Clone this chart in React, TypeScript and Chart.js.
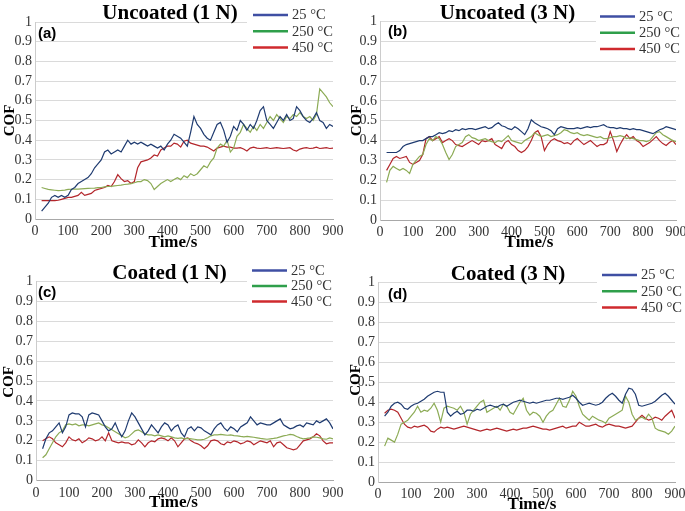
import React, { useEffect, useRef } from "react";
import { Chart, registerables } from "chart.js";

Chart.register(...registerables);

// ---------- data ----------
const TIME = [
  20, 30, 40, 50, 60, 70, 80, 90, 100, 110,
  120, 130, 140, 150, 160, 170, 180, 190, 200, 210,
  220, 230, 240, 250, 260, 270, 280, 290, 300, 310,
  320, 330, 340, 350, 360, 370, 380, 390, 400, 410,
  420, 430, 440, 450, 460, 470, 480, 490, 500, 510,
  520, 530, 540, 550, 560, 570, 580, 590, 600, 610,
  620, 630, 640, 650, 660, 670, 680, 690, 700, 710,
  720, 730, 740, 750, 760, 770, 780, 790, 800, 810,
  820, 830, 840, 850, 860, 870, 880, 890, 900,
];

const X_TICKS = [0, 100, 200, 300, 400, 500, 600, 700, 800, 900];
const Y_TICKS = [0, 0.1, 0.2, 0.3, 0.4, 0.5, 0.6, 0.7, 0.8, 0.9, 1];

const SERIES_LABELS = ["25 °C", "250 °C", "450 °C"];
const PANEL_TITLES = ["Uncoated (1 N)", "Uncoated (3 N)", "Coated (1 N)", "Coated (3 N)"];
const PANEL_TAGS = ["(a)", "(b)", "(c)", "(d)"];
const X_TITLE = "Time/s";
const Y_TITLE = "COF";

// (a) Uncoated 1 N
const A25 = [
  0.04, 0.06, 0.08, 0.11, 0.12, 0.11, 0.12, 0.11, 0.12, 0.15,
  0.16, 0.18, 0.19, 0.20, 0.21, 0.23, 0.26, 0.28, 0.30, 0.34,
  0.35, 0.33, 0.34, 0.35, 0.34, 0.37, 0.40, 0.38, 0.39, 0.38,
  0.39, 0.38, 0.37, 0.38, 0.37, 0.36, 0.37, 0.35, 0.38, 0.40,
  0.43, 0.42, 0.41, 0.39, 0.37, 0.44, 0.52, 0.48, 0.46, 0.43,
  0.41, 0.40, 0.44, 0.48, 0.49, 0.45, 0.39, 0.42, 0.47, 0.45,
  0.50, 0.48, 0.45, 0.48, 0.46, 0.50, 0.55, 0.57, 0.50, 0.48,
  0.46, 0.49, 0.52, 0.50, 0.53, 0.50, 0.51, 0.57, 0.55, 0.52,
  0.50, 0.49, 0.51, 0.54, 0.50, 0.49, 0.46, 0.48, 0.47,
];
const A250 = [
  0.16, 0.155, 0.15, 0.148, 0.146, 0.144, 0.145, 0.147, 0.15, 0.151,
  0.152, 0.152, 0.153, 0.154, 0.155, 0.156, 0.157, 0.159, 0.16, 0.163,
  0.165, 0.166, 0.168, 0.17, 0.172, 0.175, 0.177, 0.18, 0.184, 0.19,
  0.19, 0.2, 0.195, 0.18, 0.15, 0.165, 0.18, 0.19, 0.2, 0.19,
  0.2, 0.21, 0.2, 0.22, 0.21, 0.23, 0.22, 0.23, 0.25, 0.27,
  0.26, 0.29, 0.31, 0.36, 0.38, 0.37, 0.40, 0.34, 0.36, 0.42,
  0.44, 0.48, 0.46, 0.44, 0.47, 0.45, 0.48, 0.46, 0.49, 0.52,
  0.50, 0.53, 0.51, 0.49, 0.52, 0.51, 0.53, 0.52, 0.54, 0.52,
  0.51, 0.52, 0.50, 0.53, 0.66, 0.64, 0.62, 0.59, 0.57,
];
const A450 = [
  0.093, 0.093, 0.093, 0.093, 0.093, 0.095, 0.10, 0.105, 0.11, 0.11,
  0.115, 0.12, 0.135, 0.12, 0.125, 0.13, 0.145, 0.15, 0.155, 0.16,
  0.17, 0.165, 0.19, 0.225, 0.205, 0.19, 0.195, 0.18, 0.19, 0.26,
  0.29, 0.295, 0.30, 0.31, 0.325, 0.32, 0.35, 0.36, 0.37, 0.37,
  0.385, 0.38, 0.365, 0.395, 0.40, 0.385, 0.38, 0.375, 0.37, 0.37,
  0.365, 0.355, 0.345, 0.36, 0.365, 0.37, 0.365, 0.365, 0.36, 0.36,
  0.362, 0.355, 0.345, 0.36, 0.365, 0.36, 0.358, 0.36, 0.362, 0.358,
  0.36, 0.362, 0.36, 0.358, 0.36, 0.362, 0.35, 0.345, 0.355, 0.36,
  0.362, 0.358, 0.36, 0.365, 0.358, 0.36, 0.362, 0.358, 0.36,
];

// (b) Uncoated 3 N
const B25 = [
  0.34, 0.34, 0.34, 0.34, 0.35, 0.37, 0.38, 0.385, 0.39, 0.395,
  0.40, 0.40, 0.41, 0.42, 0.42, 0.43, 0.44, 0.435, 0.44, 0.45,
  0.445, 0.455, 0.45, 0.46, 0.455, 0.46, 0.46, 0.455, 0.46, 0.465,
  0.47, 0.46, 0.465, 0.48, 0.49, 0.475, 0.47, 0.46, 0.455, 0.47,
  0.46, 0.445, 0.43, 0.46, 0.505, 0.49, 0.48, 0.47, 0.465, 0.46,
  0.45, 0.43, 0.46, 0.47, 0.465, 0.46, 0.46, 0.46, 0.465, 0.46,
  0.465, 0.47, 0.465, 0.47, 0.47, 0.475, 0.48, 0.47, 0.465, 0.465,
  0.46, 0.465, 0.46, 0.46, 0.455, 0.46, 0.455, 0.455, 0.45, 0.445,
  0.44, 0.435, 0.445, 0.455, 0.46, 0.47, 0.465, 0.46, 0.455,
];
const B250 = [
  0.19, 0.25, 0.27, 0.26, 0.25, 0.26, 0.25, 0.235, 0.28, 0.30,
  0.32, 0.33, 0.38, 0.41, 0.40, 0.42, 0.41, 0.38, 0.34, 0.305,
  0.33, 0.37, 0.38, 0.39, 0.42, 0.43, 0.415, 0.41, 0.40, 0.405,
  0.41, 0.40, 0.395, 0.39, 0.40, 0.395, 0.41, 0.425, 0.40, 0.395,
  0.39, 0.385, 0.40, 0.41, 0.42, 0.44, 0.43, 0.42, 0.425, 0.43,
  0.42, 0.425, 0.43, 0.44, 0.455, 0.45, 0.44, 0.435, 0.44, 0.43,
  0.425, 0.43, 0.425, 0.42, 0.415, 0.42, 0.41, 0.41, 0.415, 0.42,
  0.42, 0.425, 0.42, 0.41, 0.415, 0.41, 0.405, 0.40, 0.40, 0.395,
  0.40, 0.42, 0.44, 0.445, 0.43, 0.42, 0.41, 0.40, 0.395,
];
const B450 = [
  0.25, 0.28, 0.31, 0.32, 0.31, 0.315, 0.32, 0.29, 0.28, 0.29,
  0.30, 0.33, 0.41, 0.42, 0.40, 0.41, 0.42, 0.39, 0.40, 0.41,
  0.40, 0.38, 0.375, 0.37, 0.38, 0.39, 0.40, 0.39, 0.38, 0.40,
  0.395, 0.40, 0.41, 0.38, 0.37, 0.36, 0.39, 0.40, 0.38, 0.37,
  0.35, 0.34, 0.35, 0.37, 0.40, 0.44, 0.45, 0.42, 0.35, 0.38,
  0.40, 0.41, 0.40, 0.395, 0.385, 0.39, 0.38, 0.40, 0.41, 0.395,
  0.38, 0.39, 0.40, 0.385, 0.37, 0.38, 0.38, 0.39, 0.445, 0.40,
  0.345, 0.38, 0.41, 0.43, 0.41, 0.42, 0.40, 0.39, 0.37, 0.38,
  0.39, 0.405, 0.42, 0.40, 0.385, 0.375, 0.39, 0.40, 0.38,
];

// (c) Coated 1 N
const C25 = [
  0.16, 0.21, 0.24, 0.25, 0.27, 0.29, 0.24, 0.27, 0.33, 0.34,
  0.335, 0.335, 0.32, 0.27, 0.33, 0.34, 0.335, 0.33, 0.30, 0.27,
  0.25, 0.26, 0.29, 0.25, 0.22, 0.25, 0.30, 0.34, 0.32, 0.29,
  0.26, 0.23, 0.25, 0.28, 0.26, 0.24, 0.27, 0.29, 0.28, 0.25,
  0.27, 0.28, 0.24, 0.22, 0.26, 0.27, 0.25, 0.27, 0.265, 0.25,
  0.24, 0.23, 0.26, 0.28, 0.29, 0.265, 0.25, 0.27, 0.26, 0.245,
  0.27, 0.28, 0.29, 0.32, 0.30, 0.28, 0.29, 0.285, 0.28, 0.28,
  0.29, 0.30, 0.31, 0.28, 0.27, 0.26, 0.265, 0.275, 0.28, 0.27,
  0.29, 0.285, 0.28, 0.30, 0.29, 0.30, 0.31, 0.29, 0.26,
];
const C250 = [
  0.115, 0.13, 0.16, 0.19, 0.22, 0.24, 0.25, 0.28, 0.285, 0.28,
  0.285, 0.275, 0.28, 0.28, 0.275, 0.28, 0.285, 0.29, 0.28, 0.275,
  0.265, 0.255, 0.245, 0.235, 0.225, 0.215, 0.22, 0.235, 0.25, 0.255,
  0.245, 0.235, 0.23, 0.23, 0.225, 0.23, 0.225, 0.22, 0.225, 0.22,
  0.215, 0.212, 0.215, 0.21, 0.212, 0.21, 0.208, 0.205, 0.205, 0.208,
  0.215, 0.225, 0.23, 0.23, 0.232, 0.23, 0.228, 0.23, 0.226, 0.225,
  0.222, 0.22, 0.222, 0.22, 0.218, 0.215, 0.212, 0.21, 0.208, 0.21,
  0.212, 0.215, 0.22, 0.225, 0.228, 0.232, 0.23, 0.222, 0.215, 0.21,
  0.212, 0.215, 0.22, 0.218, 0.215, 0.21, 0.208, 0.215, 0.21,
];
const C450 = [
  0.20, 0.21, 0.22, 0.21, 0.19, 0.18, 0.17, 0.19, 0.22, 0.205,
  0.20, 0.21, 0.19, 0.20, 0.215, 0.21, 0.20, 0.205, 0.22, 0.20,
  0.24, 0.20, 0.195, 0.19, 0.195, 0.19, 0.19, 0.18, 0.185, 0.205,
  0.19, 0.17, 0.19, 0.20, 0.195, 0.21, 0.215, 0.21, 0.20, 0.215,
  0.20, 0.17, 0.19, 0.21, 0.215, 0.20, 0.19, 0.185, 0.175, 0.16,
  0.175, 0.20, 0.205, 0.20, 0.185, 0.18, 0.195, 0.19, 0.20, 0.195,
  0.185, 0.19, 0.20, 0.195, 0.18, 0.19, 0.20, 0.195, 0.19, 0.20,
  0.17, 0.19, 0.195, 0.18, 0.165, 0.16, 0.155, 0.16, 0.18, 0.20,
  0.205, 0.21, 0.22, 0.235, 0.225, 0.20, 0.185, 0.19, 0.19,
];

// (d) Coated 3 N
const D25 = [
  0.33, 0.35, 0.38, 0.395, 0.40, 0.39, 0.37, 0.365, 0.38, 0.39,
  0.395, 0.405, 0.415, 0.43, 0.44, 0.45, 0.455, 0.45, 0.45, 0.35,
  0.33, 0.345, 0.355, 0.34, 0.345, 0.36, 0.36, 0.355, 0.365, 0.36,
  0.37, 0.38, 0.385, 0.38, 0.375, 0.385, 0.39, 0.38, 0.39, 0.40,
  0.405, 0.41, 0.405, 0.40, 0.395, 0.40, 0.395, 0.40, 0.405, 0.41,
  0.41, 0.415, 0.42, 0.42, 0.415, 0.42, 0.425, 0.435, 0.42, 0.40,
  0.385, 0.39, 0.395, 0.39, 0.385, 0.39, 0.40, 0.42, 0.435, 0.445,
  0.43, 0.41, 0.395, 0.44, 0.47, 0.465, 0.44, 0.385, 0.38, 0.385,
  0.39, 0.395, 0.405, 0.42, 0.435, 0.445, 0.43, 0.41, 0.39,
];
const D250 = [
  0.18, 0.22, 0.21, 0.20, 0.24, 0.29, 0.30, 0.31, 0.33, 0.35,
  0.38, 0.35, 0.36, 0.355, 0.37, 0.395, 0.36, 0.30, 0.37, 0.38,
  0.375, 0.37, 0.36, 0.38, 0.35, 0.29, 0.34, 0.36, 0.38, 0.40,
  0.41, 0.35, 0.36, 0.37, 0.38, 0.36, 0.39, 0.38, 0.35, 0.34,
  0.37, 0.40, 0.42, 0.36, 0.335, 0.35, 0.345, 0.33, 0.30, 0.33,
  0.35, 0.36, 0.39, 0.42, 0.38, 0.375, 0.41, 0.455, 0.43, 0.38,
  0.34, 0.325, 0.31, 0.33, 0.32, 0.31, 0.305, 0.295, 0.32, 0.33,
  0.34, 0.35, 0.36, 0.43, 0.40, 0.34, 0.31, 0.32, 0.325, 0.315,
  0.34, 0.32, 0.27, 0.26, 0.255, 0.25, 0.24, 0.255, 0.28,
];
const D450 = [
  0.345, 0.36, 0.365, 0.36, 0.35, 0.32, 0.29, 0.275, 0.27, 0.28,
  0.275, 0.28, 0.285, 0.275, 0.255, 0.25, 0.265, 0.275, 0.27, 0.275,
  0.27, 0.265, 0.27, 0.275, 0.28, 0.275, 0.27, 0.265, 0.26, 0.255,
  0.26, 0.265, 0.26, 0.265, 0.27, 0.265, 0.26, 0.255, 0.26, 0.265,
  0.26, 0.265, 0.27, 0.27, 0.275, 0.28, 0.275, 0.27, 0.265, 0.265,
  0.26, 0.265, 0.27, 0.275, 0.28, 0.27, 0.275, 0.28, 0.28, 0.30,
  0.29, 0.28, 0.28, 0.285, 0.29, 0.28, 0.275, 0.285, 0.29, 0.285,
  0.28, 0.28, 0.275, 0.27, 0.275, 0.28, 0.30, 0.32, 0.335, 0.32,
  0.31, 0.315, 0.325, 0.32, 0.31, 0.33, 0.345, 0.36, 0.32,
];

const PANEL_SERIES = [
  [A25, A250, A450],
  [B25, B250, B450],
  [C25, C250, C450],
  [D25, D250, D450],
];

// ---------- layout & style ----------
const W = 685;
const H = 511;
const YW = 30;
const XH = 20;
const SERIF = '"Liberation Serif", "Times New Roman", serif';
const SANS = '"Liberation Sans", Arial, sans-serif';
const LINE_COLORS = ["#1f3b70", "#8cab55", "#b3262b"];
const LEGEND_COLORS = ["#3f4fa3", "#2f9f4b", "#cf2a2e"];
const TEXT_COLOR = "#333333";

const LAYOUTS = [
  {
    area: { l: 35, r: 333, t: 22, b: 219 },
    title: { x: 170, y: 18.5 },
    tag: { x: 38, y: 37.5 },
    legend: { x: 253, y: 15, dy: 16.3 },
    box: [247, 0, 98, 56],
    yTitle: { x: 10, y: 120.5 },
    xTitle: { x: 173, y: 247 },
  },
  {
    area: { l: 380, r: 676, t: 21.5, b: 220 },
    title: { x: 507.5, y: 18.5 },
    tag: { x: 388, y: 36 },
    legend: { x: 600, y: 16.5, dy: 16.3 },
    box: [596, 0, 89, 58],
    yTitle: { x: 357, y: 120.5 },
    xTitle: { x: 529, y: 247 },
  },
  {
    area: { l: 36, r: 333, t: 281.3, b: 480.7 },
    title: { x: 169.5, y: 278.5 },
    tag: { x: 38, y: 297 },
    legend: { x: 252, y: 270.5, dy: 15.5 },
    box: [247, 260, 98, 50],
    yTitle: { x: 9, y: 382 },
    xTitle: { x: 173.5, y: 507 },
  },
  {
    area: { l: 378, r: 675, t: 282.6, b: 482 },
    title: { x: 508, y: 280 },
    tag: { x: 388, y: 299 },
    legend: { x: 602, y: 275, dy: 16.2 },
    box: [597, 264, 88, 52],
    yTitle: { x: 356, y: 380 },
    xTitle: { x: 532, y: 509 },
  },
];

function overlayPlugin(i: number) {
  const p = LAYOUTS[i];
  return {
    id: "panelText" + i,
    afterDraw(chart: any) {
      const ctx = chart.ctx as CanvasRenderingContext2D;
      ctx.save();
      // legend background
      ctx.fillStyle = "#ffffff";
      ctx.fillRect(p.box[0], p.box[1], p.box[2], p.box[3]);

      // title
      ctx.fillStyle = "#000000";
      ctx.font = `bold 21px ${SERIF}`;
      ctx.textAlign = "center";
      ctx.textBaseline = "alphabetic";
      ctx.fillText(PANEL_TITLES[i], p.title.x, p.title.y);

      // panel tag
      ctx.font = `bold 15px ${SANS}`;
      ctx.textAlign = "left";
      ctx.fillText(PANEL_TAGS[i], p.tag.x, p.tag.y);

      // legend
      SERIES_LABELS.forEach((lab, k) => {
        const yy = p.legend.y + k * p.legend.dy;
        ctx.strokeStyle = LEGEND_COLORS[k];
        ctx.lineWidth = 2.5;
        ctx.beginPath();
        ctx.moveTo(p.legend.x, yy);
        ctx.lineTo(p.legend.x + 35, yy);
        ctx.stroke();
        ctx.fillStyle = TEXT_COLOR;
        ctx.font = `14.5px ${SERIF}`;
        ctx.textAlign = "left";
        ctx.textBaseline = "middle";
        ctx.fillText(lab, p.legend.x + 39, yy + 0.5);
      });

      // axis titles
      ctx.fillStyle = "#000000";
      ctx.font = `bold 17px ${SERIF}`;
      ctx.textAlign = "center";
      ctx.textBaseline = "alphabetic";
      ctx.fillText(X_TITLE, p.xTitle.x, p.xTitle.y);

      ctx.save();
      ctx.translate(p.yTitle.x, p.yTitle.y);
      ctx.rotate(-Math.PI / 2);
      ctx.font = `bold 15px ${SERIF}`;
      ctx.textAlign = "center";
      ctx.textBaseline = "middle";
      ctx.fillText(Y_TITLE, 0, 0);
      ctx.restore();

      ctx.restore();
    },
  };
}

function makeConfig(i: number): any {
  const p = LAYOUTS[i];
  const a = p.area;
  return {
    type: "line",
    data: {
      datasets: PANEL_SERIES[i].map((s, k) => ({
        label: SERIES_LABELS[k],
        data: TIME.map((t, j) => ({ x: t, y: s[j] })),
        borderColor: LINE_COLORS[k],
        backgroundColor: LINE_COLORS[k],
        borderWidth: 1.2,
        pointRadius: 0,
        fill: false,
        tension: 0,
      })),
    },
    options: {
      responsive: false,
      animation: false,
      devicePixelRatio: 1,
      events: [],
      layout: {
        padding: {
          left: a.l - YW,
          right: W - a.r,
          top: a.t,
          bottom: H - a.b - XH,
        },
      },
      plugins: {
        legend: { display: false },
        tooltip: { enabled: false },
        title: { display: false },
      },
      scales: {
        x: {
          type: "linear",
          min: 0,
          max: 900,
          afterBuildTicks: (s: any) => {
            s.ticks = X_TICKS.map((v) => ({ value: v }));
          },
          afterFit: (s: any) => {
            s.height = XH;
            s.paddingLeft = 0;
            s.paddingRight = 0;
          },
          grid: { display: false, drawTicks: false },
          border: { display: true, color: "#a8a8a8", width: 1 },
          ticks: {
            font: { family: SERIF, size: 14 },
            color: TEXT_COLOR,
            padding: 4,
            maxRotation: 0,
            autoSkip: false,
            callback: (v: any) => String(v),
          },
        },
        y: {
          type: "linear",
          min: 0,
          max: 1,
          afterBuildTicks: (s: any) => {
            s.ticks = Y_TICKS.map((v) => ({ value: v }));
          },
          afterFit: (s: any) => {
            s.width = YW;
            s.paddingTop = 0;
            s.paddingBottom = 0;
          },
          grid: { color: "#dadada", lineWidth: 1, drawTicks: false },
          border: { display: true, color: "#cccccc", width: 1 },
          ticks: {
            font: { family: SERIF, size: 14 },
            color: TEXT_COLOR,
            padding: 3,
            autoSkip: false,
            callback: (v: any) => String(Math.round(v * 10) / 10),
          },
        },
      },
    },
    plugins: [overlayPlugin(i)],
  };
}

export default function App() {
  const r0 = useRef<HTMLCanvasElement | null>(null);
  const r1 = useRef<HTMLCanvasElement | null>(null);
  const r2 = useRef<HTMLCanvasElement | null>(null);
  const r3 = useRef<HTMLCanvasElement | null>(null);
  const refs = [r0, r1, r2, r3];

  useEffect(() => {
    const charts = refs.map((r, i) => new Chart(r.current as HTMLCanvasElement, makeConfig(i)));
    return () => charts.forEach((c) => c.destroy());
  }, []);

  return (
    <div
      style={{
        position: "absolute",
        left: 0,
        top: 0,
        width: W,
        height: H,
        background: "#ffffff",
        overflow: "hidden",
      }}
    >
      {refs.map((r, i) => (
        <canvas
          key={i}
          ref={r}
          width={W}
          height={H}
          style={{ position: "absolute", left: 0, top: 0, width: W, height: H }}
        />
      ))}
    </div>
  );
}
